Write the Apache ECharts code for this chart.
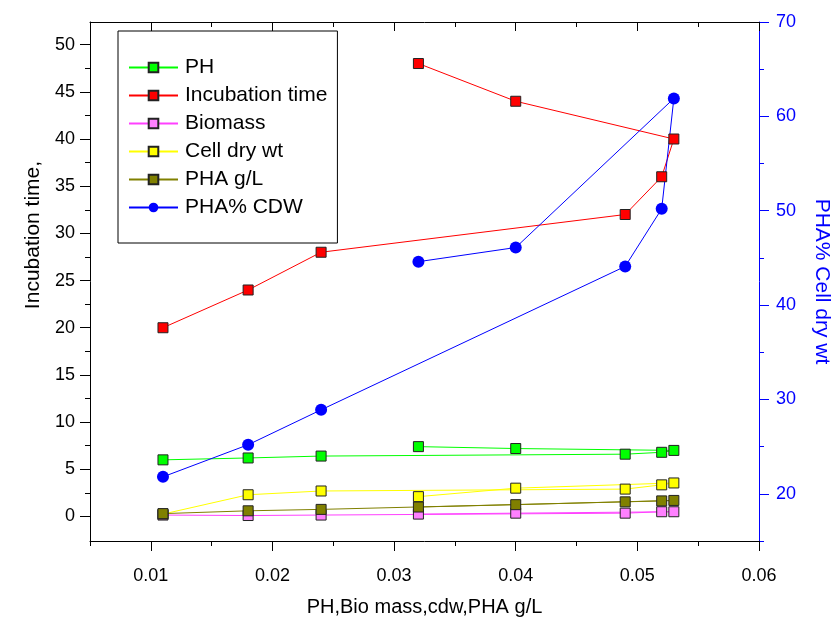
<!DOCTYPE html>
<html><head><meta charset="utf-8">
<script src="https://cdn.jsdelivr.net/npm/echarts@6/dist/echarts.min.js"></script>
<style>html,body{margin:0;padding:0;background:#fff}#c{width:837px;height:619px}</style>
</head><body><div id="c"></div>
<script>
// data (in plotted order)
const xVals = [0.011, 0.018, 0.024, 0.049, 0.052, 0.053, 0.040, 0.032];
const ph = [6.0, 6.2, 6.4, 6.6, 6.8, 7.0, 7.2, 7.4];
const incubation = [20, 24, 28, 32, 36, 40, 44, 48];
const biomass = [0.15, 0.1, 0.15, 0.35, 0.5, 0.5, 0.35, 0.25];
const cellDryWt = [0.25, 2.3, 2.7, 2.9, 3.35, 3.55, 3.0, 2.1];
const phaGL = [0.3, 0.6, 0.75, 1.55, 1.65, 1.7, 1.25, 1.0];
const phaPctCDW = [21.8, 25.2, 28.9, 44.1, 50.2, 61.9, 46.1, 44.6];
const xMajor = [0.01, 0.02, 0.03, 0.04, 0.05, 0.06];
const xMinor = [0.005, 0.015, 0.025, 0.035, 0.045, 0.055];
const yLeftMajor = [0, 5, 10, 15, 20, 25, 30, 35, 40, 45, 50];
const yLeftMinor = [2.5, 7.5, 12.5, 17.5, 22.5, 27.5, 32.5, 37.5, 42.5, 47.5];
const yRightMajor = [20, 30, 40, 50, 60, 70];
const yRightMinor = [15, 25, 35, 45, 55, 65];

const pair = arr => arr.map((v, i) => [xVals[i], v]);
const font = 'Liberation Sans, Arial, sans-serif';
const X_MIN = 0.005, X_MAX = 0.06, YL_MIN = -2.6, YL_MAX = 52.4, YR_MIN = 15, YR_MAX = 70;

function xAx(pos, vals, len, inside, showLine, showLabel) {
  return {
    type: 'value', min: X_MIN, max: X_MAX, position: pos,
    axisLine: {show: showLine, onZero: false, lineStyle: {color: '#000', width: 1}},
    axisTick: {show: true, inside: inside, length: len, customValues: vals, lineStyle: {color: '#000'}},
    axisLabel: {show: showLabel, customValues: vals, color: '#000', fontFamily: font, fontSize: 18, margin: 26,
      formatter: v => v.toFixed(2)},
    splitLine: {show: false}
  };
}
function yAx(pos, min, max, vals, len, color, showLine, showLabel, margin) {
  return {
    type: 'value', min: min, max: max, position: pos,
    axisLine: {show: showLine, onZero: false, lineStyle: {color: color, width: 1}},
    axisTick: {show: true, length: len, customValues: vals, lineStyle: {color: color}},
    axisLabel: {show: showLabel, customValues: vals, color: color, fontFamily: font, fontSize: 18, margin: margin || 15},
    splitLine: {show: false}
  };
}

const xAxes = [
  Object.assign(xAx('bottom', xMajor, 10, false, true, true), {
    name: 'PH,Bio mass,cdw,PHA g/L', nameLocation: 'middle', nameGap: 56,
    nameTextStyle: {color: '#000', fontFamily: font, fontSize: 20}
  }),
  xAx('bottom', xMinor, 5, false, false, false),
  xAx('top', xMajor, 9, true, true, false),
  xAx('top', xMinor, 5, true, false, false)
];
const yAxes = [
  yAx('left', YL_MIN, YL_MAX, yLeftMajor, 10, '#000', true, true, 15),
  Object.assign(yAx('right', YR_MIN, YR_MAX, yRightMajor, 10, '#0000ff', true, true, 17), {
    name: 'PHA% Cell dry wt', nameLocation: 'middle', nameGap: 52, nameRotate: -90,
    nameTextStyle: {color: '#0000ff', fontFamily: font, fontSize: 21}
  }),
  yAx('left', YL_MIN, YL_MAX, yLeftMinor, 5, '#000', false, false),
  yAx('right', YR_MIN, YR_MAX, yRightMinor, 5, '#0000ff', false, false)
];

function sq(name, data, line, fill) {
  return {
    name: name, type: 'line', data: pair(data), xAxisIndex: 0, yAxisIndex: 0,
    symbol: 'rect', symbolSize: 10, showSymbol: true,
    lineStyle: {color: line, width: 1},
    itemStyle: {color: fill, borderColor: '#222', borderWidth: 1},
    animation: false
  };
}

const series = [
  sq('PH', ph, '#00ff00', '#00ff00'),
  sq('Incubation time', incubation, '#ff0000', '#ff0000'),
  sq('Biomass', biomass, '#ff40ff', '#ff80ff'),
  sq('Cell dry wt', cellDryWt, '#ffff00', '#ffff00'),
  sq('PHA g/L', phaGL, '#808000', '#808000'),
  {
    name: 'PHA% CDW', type: 'line', data: pair(phaPctCDW), xAxisIndex: 0, yAxisIndex: 1,
    symbol: 'circle', symbolSize: 12,
    lineStyle: {color: '#0000ff', width: 1},
    itemStyle: {color: '#0000ff', borderWidth: 0},
    animation: false
  }
];

const chart = echarts.init(document.getElementById('c'), null, {renderer: 'canvas'});
chart.setOption({
  animation: false,
  backgroundColor: '#fff',
  grid: {left: 90, right: 78, top: 22, bottom: 78, containLabel: false, outerBoundsMode: 'none'},
  xAxis: xAxes,
  yAxis: yAxes,
  graphic: [{
    type: 'text', x: 33, y: 235, rotation: Math.PI / 2,
    style: {text: 'Incubation time,', fill: '#000', font: '21px ' + font, align: 'center', verticalAlign: 'middle'}
  }],
  legend: {
    orient: 'vertical', left: 118, top: 31,
    padding: [26, 10, 25, 10], itemGap: 7, itemWidth: 49, itemHeight: 12,
    borderColor: '#000', borderWidth: 1,
    textStyle: {color: '#000', fontFamily: font, fontSize: 21, lineHeight: 20, padding: [0, 0, 0, 2]},
    data: ['PH', 'Incubation time', 'Biomass', 'Cell dry wt', 'PHA g/L', 'PHA% CDW']
  },
  series: series
});
</script></body></html>
